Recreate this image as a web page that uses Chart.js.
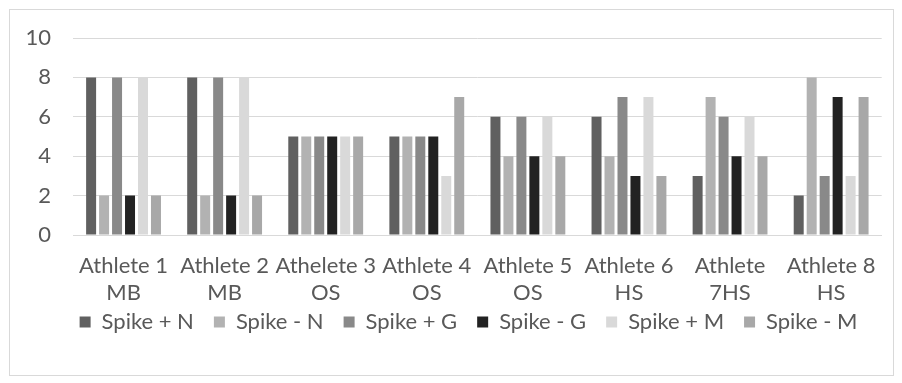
<!DOCTYPE html>
<html>
<head>
<meta charset="utf-8">
<script src="https://cdn.jsdelivr.net/npm/chart.js@4/dist/chart.umd.min.js"></script>
<style>
  html, body { margin: 0; padding: 0; background: #fff; }
  #frame { position: absolute; left: 9px; top: 9px; width: 883px; height: 365px; border: 1px solid #d9d9d9; }
  canvas { display: block; }
</style>
</head>
<body>
<div id="frame"><canvas id="c"></canvas></div>
<script>
const athletes = [
  ["Athlete 1", "MB"], ["Athlete 2", "MB"], ["Athelete 3", "OS"], ["Athlete 4", "OS"],
  ["Athlete 5", "OS"], ["Athlete 6", "HS"], ["Athlete", "7HS"], ["Athlete 8", "HS"]
];
const spikePlusN  = [8, 8, 5, 5, 6, 6, 3, 2];
const spikeMinusN = [2, 2, 5, 5, 4, 4, 7, 8];
const spikePlusG  = [8, 8, 5, 5, 6, 7, 6, 3];
const spikeMinusG = [2, 2, 5, 5, 4, 3, 4, 7];
const spikePlusM  = [8, 8, 5, 3, 6, 7, 6, 3];
const spikeMinusM = [2, 2, 5, 7, 4, 3, 4, 7];
const yTicks = [0, 2, 4, 6, 8, 10];

const font = "Lato, 'Open Sans', sans-serif";
const textColor = '#595959';
const mk = (label, data, color) => ({ label, data, backgroundColor: color, borderWidth: 0 });

// Pull the legend row up snugly under the two-line category labels.
const legendNudge = {
  id: 'legendNudge',
  afterLayout(chart) {
    const lg = chart.legend;
    if (!lg) return;
    const dy = -24, dx = 20;
    lg.top += dy; lg.bottom += dy;
    lg.left += dx; lg.right += dx;
  }
};

new Chart(document.getElementById('c'), {
  type: 'bar',
  data: {
    labels: athletes,
    datasets: [
      mk('Spike + N', spikePlusN, '#606060'),
      mk('Spike - N', spikeMinusN, '#b2b2b2'),
      mk('Spike + G', spikePlusG, '#898989'),
      mk('Spike - G', spikeMinusG, '#222222'),
      mk('Spike + M', spikePlusM, '#d9d9d9'),
      mk('Spike - M', spikeMinusM, '#a8a8a8')
    ]
  },
  plugins: [legendNudge],
  options: {
    responsive: true,
    maintainAspectRatio: false,
    animation: false,
    datasets: { bar: { categoryPercentage: 0.77, barPercentage: 0.77 } },
    layout: { padding: { left: 0, right: 6, top: 28, bottom: 8 } },
    plugins: {
      tooltip: { enabled: false },
      legend: {
        position: 'bottom',
        labels: { boxWidth: 11, boxHeight: 11, color: textColor, font: { family: font, size: 22 }, padding: 20 }
      }
    },
    scales: {
      x: {
        afterFit: s => { s.height = 80; },
        grid: { display: false, drawTicks: false },
        border: { color: '#d9d9d9' },
        ticks: { color: textColor, font: { family: font, size: 22, lineHeight: 1.23 }, maxRotation: 0, autoSkip: false, padding: 17 }
      },
      y: {
        min: 0, max: 10,
        afterFit: s => { s.width = 63; s.paddingTop = 0; s.paddingBottom = 0; },
        afterBuildTicks: s => { s.ticks = yTicks.map(v => ({ value: v })); },
        grid: { color: '#d9d9d9', drawTicks: false },
        border: { display: false },
        ticks: { color: textColor, font: { family: font, size: 22 }, padding: 22 }
      }
    }
  }
});
</script>
</body>
</html>
